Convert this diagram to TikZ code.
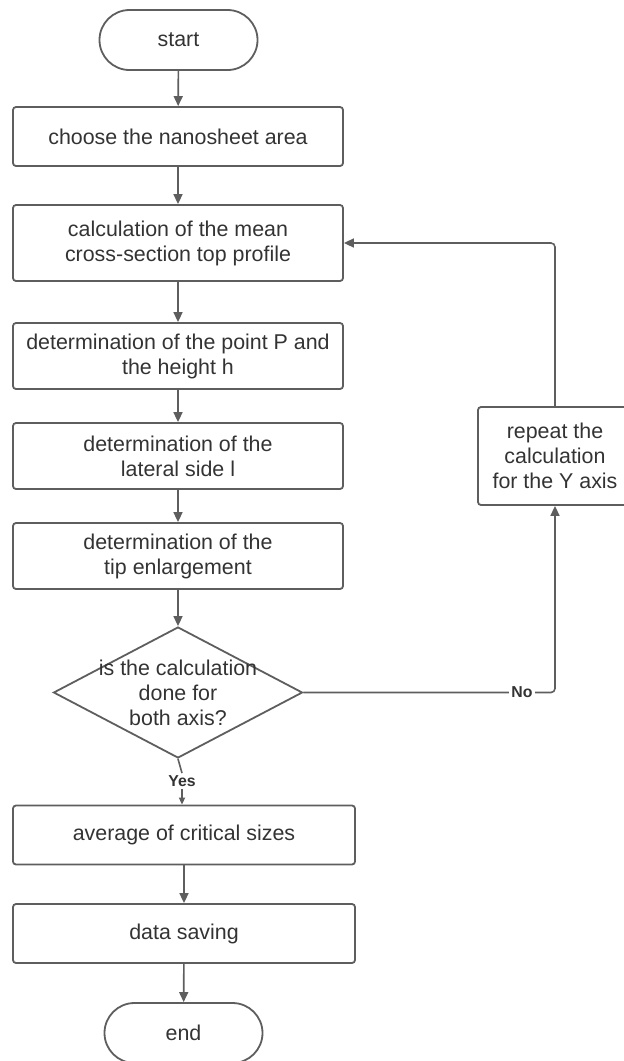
\documentclass[tikz,border=0pt]{standalone}
\usepackage{fontspec}
\setmainfont{Liberation Sans}
\usepackage{xcolor}
\usepackage{tikz}
\usetikzlibrary{arrows.meta,shapes,positioning}
\definecolor{linegray}{HTML}{5E5E5E}
\definecolor{textgray}{HTML}{333333}

\begin{document}
\begin{tikzpicture}[
	x=0.5pt, y=-0.5pt,
	every node/.style = {align=center, text=textgray,
	font=\fontsize{10.7}{12.5}\selectfont},
	process/.style = {shape=rectangle, rounded corners=1.5pt,
	draw=linegray, line width=0.9pt, inner sep=0pt,
	minimum width=165pt, minimum height=29.5pt},
	startstop/.style = {shape=rectangle, rounded corners=15pt,
	draw=linegray, line width=0.9pt,
	minimum width=79pt, minimum height=30pt},
	decision/.style = {shape=diamond, draw=linegray, line width=0.9pt,
	inner sep=0pt, minimum width=124.5pt, minimum height=65.5pt},
	flow/.style = {-{Triangle[length=5pt,width=4.5pt]}, draw=linegray, line width=0.8pt},
	answer/.style = {font=\fontsize{7.9}{9}\selectfont\bfseries,
	fill=white, inner sep=1pt}
]
\useasboundingbox (0,0) rectangle (623,1061);

% main column
\node[startstop] (start) at (178.5,40) {start};
\node[process] (area) at (178,136.5) {choose the nanosheet area};
\node[process, minimum height=38pt] (profile) at (178,243)
	{calculation of the mean\\cross-section top profile};
\node[process, minimum height=33pt] (point) at (178,356)
	{determination of the point P and\\the height h};
\node[process, minimum height=33pt] (lateral) at (178,456)
	{determination of the\\lateral side l};
\node[process, minimum height=33pt] (tip) at (178,556)
	{determination of the\\tip enlargement};
\node[decision] (check) at (178,692.5) {};
\node (checktext) at (check) {is the calculation\\done for\\both axis?};
\node[answer] (yes) at (182,781) {Yes};
\node[process, minimum width=171pt] (average) at (184,835) {average of critical sizes};
\node[process, minimum width=171pt] (saving) at (184,933.5) {data saving};
\node[startstop] (end) at (183.5,1033) {end};

% loop back
\node[process, minimum width=77pt, minimum height=49pt] (repeat) at (555,456)
	{repeat the\\calculation\\for the Y axis};

\draw[flow] (start) -- (area);
\draw[flow] (area) -- (profile);
\draw[flow] (profile) -- (point);
\draw[flow] (point) -- (lateral);
\draw[flow] (lateral) -- (tip);
\draw[flow] (tip) -- (check);
\draw[draw=linegray, line width=0.8pt] (check.south) -- (yes.north);
\draw[flow, -{Triangle[length=3.5pt,width=3pt]}] (yes.south) -- (yes.south |- average.north);
\draw[flow] (average) -- (saving);
\draw[flow] (saving) -- (end);
\draw[flow, rounded corners=2pt] (check.east) -| (repeat.south);
\node[answer] (no) at (522,692.5) {No};
\draw[flow, rounded corners=2pt] (repeat.north) |- (profile.east);
\end{tikzpicture}
\end{document}
